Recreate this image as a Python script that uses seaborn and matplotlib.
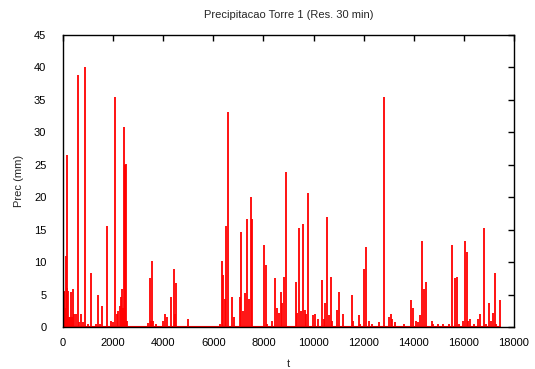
import matplotlib
matplotlib.use("Agg")
import matplotlib.pyplot as plt
import numpy as np
import seaborn as sns

# impulse data (t in 30-min steps, precipitation in mm)
t = [0, 25, 50, 75, 100, 120, 150, 172, 200, 240, 280, 307, 340, 412, 450, 505,
     585, 650, 730, 790, 878, 1000, 1104, 1300, 1410, 1480, 1543, 1769, 1926, 1980,
     2075, 2150, 2200, 2260, 2300, 2354, 2400, 2447, 2480, 2514, 2540,
     3400, 3472, 3520, 3565, 3610, 3700, 4003, 4085, 4150, 4297, 4443, 4480, 4522, 4975,
     6280, 6332, 6385, 6452, 6517, 6598, 6757, 6823, 7063, 7116, 7196, 7276, 7342,
     7422, 7489, 7555, 8021, 8088, 8150, 8327, 8460, 8527, 8606, 8686, 8752, 8832,
     8912, 9284, 9340, 9431, 9500, 9577, 9640, 9700, 9790, 9990, 10060, 10176,
     10322, 10400, 10468, 10535, 10600, 10681, 10740, 10921, 11000, 11160, 11520,
     11580, 11812, 11860, 12024, 12104, 12200, 12350, 12623, 12822, 13009, 13089,
     13150, 13250, 13600, 13873, 13953, 14080, 14150, 14250, 14326, 14393, 14473,
     14712, 14770, 14950, 15180, 15400, 15523, 15656, 15734, 15800, 15960, 16041,
     16108, 16180, 16260, 16400, 16550, 16650, 16786, 16900, 17012, 17090, 17150,
     17239, 17300, 17438]
prec = [2.5, 5.5, 5.4, 3.0, 2.6, 11.0, 6.0, 26.5, 5.5, 1.5, 1.5, 5.4, 1.5, 5.8, 2.0, 2.0,
        38.9, 0.8, 2.0, 0.8, 40.0, 0.5, 8.4, 0.5, 4.9, 0.5, 3.2, 15.5, 1.0, 0.8,
        35.4, 2.0, 2.4, 3.2, 4.6, 5.8, 3.0, 30.8, 25.0, 25.1, 1.0,
        0.6, 7.5, 1.0, 10.1, 1.0, 0.5, 1.0, 2.0, 1.5, 4.7, 8.9, 2.0, 6.8, 1.2,
        0.5, 10.1, 8.0, 4.3, 15.5, 33.1, 4.7, 1.5, 4.7, 14.7, 2.4, 5.2, 16.7,
        4.3, 20.1, 16.7, 12.7, 9.5, 0.4, 1.0, 7.5, 2.9, 2.2, 5.4, 3.7, 7.7,
        23.9, 6.9, 2.2, 15.2, 2.4, 15.8, 2.6, 2.0, 20.7, 1.8, 2.0, 1.3,
        7.2, 1.3, 3.7, 17.0, 1.9, 7.7, 1.0, 2.6, 5.4, 2.0, 5.0,
        1.0, 1.8, 0.5, 8.9, 12.4, 1.0, 0.4, 0.7, 35.4, 1.5, 2.0,
        1.3, 0.7, 0.4, 4.1, 2.9, 1.0, 0.7, 1.9, 13.3, 5.8, 6.9,
        1.0, 0.5, 0.4, 0.4, 0.4, 12.7, 7.5, 7.7, 0.4, 1.0, 13.3,
        11.5, 1.0, 1.3, 0.4, 1.3, 2.0, 15.2, 0.4, 3.7, 1.0, 2.2,
        8.3, 0.4, 4.1]

yticks = [0, 5, 10, 15, 20, 25, 30, 35, 40, 45]
xticks = [0, 2000, 4000, 6000, 8000, 10000, 12000, 14000, 16000, 18000]

sns.set_style("white")
plt.rcParams['font.family'] = ['Liberation Sans', 'DejaVu Sans']

fig = plt.figure(figsize=(5.35, 3.69), dpi=100)
ax = fig.add_axes([0.1178, 0.1138, 0.8429, 0.7913])

ax.vlines(t, 0, prec, color='#ff0000', linewidth=1.3)
ax.plot([min(t), max(t)], [0, 0], color='#ff0000', linewidth=1.5)

ax.set_xlim(0, 18000)
ax.set_ylim(0, 45)
ax.set_xticks(xticks)
ax.set_yticks(yticks)
ax.tick_params(direction='in', top=True, right=True, length=4, width=1,
               labelsize=8, colors='black')
ax.tick_params(axis='y', pad=12)
ax.tick_params(axis='x', pad=8)
for s in ax.spines.values():
    s.set_color('black')
    s.set_linewidth(1)

ax.set_title('Precipitacao Torre 1 (Res. 30 min)', fontsize=8, pad=12)
ax.set_xlabel('t', fontsize=8, labelpad=8)
ax.set_ylabel('Prec (mm)', fontsize=8, labelpad=7)

fig.savefig('out.png', dpi=100)
